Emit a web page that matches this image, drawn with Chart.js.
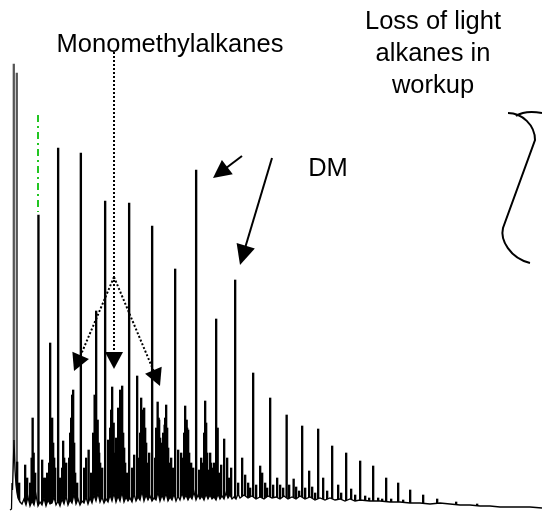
<!DOCTYPE html>
<html><head><meta charset="utf-8">
<script src="https://cdn.jsdelivr.net/npm/chart.js@4.4.1/dist/chart.umd.min.js"></script>
<style>
html,body{margin:0;padding:0;background:#fff;}
#wrap{position:relative;width:542px;height:513px;overflow:hidden;background:#fff;}
#wrap canvas{position:absolute;left:0;top:0;}
.lbl{position:absolute;font-family:"Liberation Sans",Arial,sans-serif;font-size:25.5px;color:#000;text-align:center;white-space:nowrap;line-height:32px;}
</style></head><body>
<div id="wrap">
<canvas id="c" width="542" height="513"></canvas>
<div class="lbl" style="left:20px;top:27px;width:300px;">Monomethylalkanes</div>
<div class="lbl" style="left:333px;top:4px;width:200px;">Loss of light<br>alkanes in<br>workup</div>
<div class="lbl" style="left:278px;top:151px;width:100px;">DM</div>
</div>
<script>
// Retention time (min) and detector response (arbitrary units)
const solventTime   = [1.3, 1.6];
const solventHeight = [449, 440];

const peakTime = [1.8,2.0,2.6,2.8,3.1,3.25,3.35,3.45,3.6,3.93,4.3,4.4,4.6,4.8,5.0,5.1,5.3,5.4,5.5,5.6,5.9,6.1,6.3,6.4,6.5,6.7,7.0,7.1,7.2,7.3,7.4,7.5,7.6,7.8,8.17,8.5,8.7,8.95,9.2,9.4,9.55,9.7,9.85,9.95,10.0,10.1,10.3,10.6,10.9,11.1,11.2,11.3,11.45,11.6,11.7,11.9,12.0,12.1,12.2,12.3,12.4,12.5,12.6,12.8,13.0,13.3,13.5,13.8,14.0,14.1,14.2,14.3,14.4,14.5,14.6,14.7,14.8,15.0,15.3,15.6,15.7,15.85,15.95,16.0,16.1,16.2,16.3,16.4,16.55,16.6,16.7,16.8,16.9,17.0,17.2,17.4,17.6,17.9,18.2,18.4,18.5,18.6,18.75,18.8,18.9,19.0,19.2,19.4,19.7,20.0,20.2,20.4,20.5,20.6,20.7,20.8,20.9,21.1,21.2,21.3,21.5,21.7,21.85,22.0,22.2,22.5,22.8,23.0,23.2,23.6,23.9,24.3,24.6,24.9,25.1,25.4,25.7,26.1,26.3,26.6,26.8,27.1,27.4,27.8,28.1,28.4,28.75,29.0,29.45,29.7,30.0,30.3,30.6,31.0,31.3,31.6,31.9,32.4,32.8,33.3,33.9,34.2,34.7,35.2,35.6,36.1,36.6,37.0,37.4,37.9,38.3,38.7,39.2,39.9,40.4,41.1,42.4,43.8,45.7,47.8];
const peakHeight = [51,30,48,35,30,55,95,60,40,298,53,35,35,40,50,170,95,70,55,45,365,35,45,72,55,50,55,80,95,118,123,70,40,30,360,45,55,63,40,80,118,202,93,70,60,50,45,312,73,85,103,126,90,60,75,105,95,123,118,127,80,65,50,40,310,45,58,137,55,80,115,95,103,105,85,70,50,60,287,55,85,111,95,93,75,60,70,80,88,95,108,85,65,50,55,45,244,63,60,55,80,107,93,85,83,60,50,45,343,43,55,50,80,112,90,60,43,60,50,45,50,194,85,40,48,74,55,35,45,233,30,55,38,30,25,140,28,47,40,30,25,115,28,35,28,25,98,28,34,26,22,87,25,42,26,20,84,35,22,67,28,20,60,24,18,52,17,15,47,15,14,35,14,30,13,23,18,14,11,9];

const baseTime = [1.0,1.15,1.2,1.25,1.4,1.5,1.6,1.7,1.8,2.0,2.2,2.4,2.6,2.8,3.0,3.2,3.4,3.6,3.8,4.0,4.2,4.4,4.6,4.8,5.0,5.2,5.4,5.6,5.8,6.0,6.2,6.4,6.6,6.8,7.0,7.2,7.4,7.6,7.8,8.0,8.2,8.4,8.6,8.8,9.0,9.2,9.4,9.6,9.8,10.0,10.2,10.4,10.6,10.8,11.0,11.2,11.4,11.6,11.8,12.0,12.2,12.4,12.6,12.8,13.0,13.2,13.4,13.6,13.8,14.0,14.2,14.4,14.6,14.8,15.0,15.2,15.4,15.6,15.8,16.0,16.2,16.4,16.6,16.8,17.0,17.2,17.4,17.6,17.8,18.0,18.2,18.4,18.6,18.8,19.0,19.2,19.4,19.6,19.8,20.0,20.2,20.4,20.6,20.8,21.0,21.2,21.4,21.6,21.8,22.0,22.2,22.4,22.6,22.8,23.0,23.2,23.4,23.6,23.8,24.0,24.4,24.8,25.2,25.6,26.0,26.4,26.8,27.2,27.6,28.0,28.4,28.8,29.2,29.6,30.0,30.5,31.0,31.5,32.0,32.5,33.0,33.5,34.0,34.5,35.0,35.5,36.0,37.0,38.0,39.0,40.0,41.0,42.0,43.0,44.0,45.0,46.0,47.0,48.0,49.0,50.0,51.0,52.0,53.0,54.2];
const baseLevel = [3,4,30,23,73,43,28,20,15,11,9,14,8,16,7,12,8,18,7,11,8,15,7,13,9,10,16,8,12,7,14,9,17,8,13,10,19,9,14,8,12,10,16,9,15,10,18,12,20,11,16,10,14,11,18,12,20,11,17,12,21,11,16,12,15,11,19,12,16,13,22,12,18,13,17,12,15,13,21,12,18,13,20,12,16,13,19,12,17,13,20,14,18,13,17,14,21,13,18,14,17,13,19,14,18,14,16,13,19,14,17,14,20,15,18,14,16,14,19,15,18,15,17,14,16,14,17,15,16,14,17,14,16,14,17,14,16,13,15,13,15,13,14,12,14,12,13,12,12,11,11,10,10,9,10,9,8,8,7,7,6,6,6,6,5];

// annotation geometry (time, response)
const ann = {
  monoStem:   [[11.4,461],[11.4,159]],
  monoTip:    [11.4,144],
  monoApex:   [11.4,236],
  monoLeft:   [7.4,142],
  monoRight:  [16.0,127],
  dm1:        [[24.2,357],[21.3,335]],
  dm2:        [[27.2,355],[24.0,248]],
  green:      [[3.8,398],[3.8,301]],
  brace:      [[50.8,400],[52.2,400],[53.5,388],[53.5,373],[50.3,285],[50.0,273],[51.0,255],[53.0,250]],
  braceCap:   [[51.6,397],[52.5,403],[54.2,400]]
};

const annotPlugin = {
  id: 'annot',
  afterDatasetsDraw(chart) {
    const ctx = chart.ctx, xs = chart.scales.x, ys = chart.scales.y;
    const P = p => [xs.getPixelForValue(p[0]), ys.getPixelForValue(p[1])];
    function head(from, tip, L, W) {
      const [fx, fy] = P(from), [tx, ty] = P(tip);
      const a = Math.atan2(ty - fy, tx - fx);
      const bx = tx - L * Math.cos(a), by = ty - L * Math.sin(a);
      ctx.beginPath();
      ctx.moveTo(tx, ty);
      ctx.lineTo(bx + W * Math.sin(a), by - W * Math.cos(a));
      ctx.lineTo(bx - W * Math.sin(a), by + W * Math.cos(a));
      ctx.closePath();
      ctx.fillStyle = '#000';
      ctx.fill();
    }
    function line(a, b, dash, w, col) {
      const [ax, ay] = P(a), [bx, by] = P(b);
      ctx.save();
      ctx.setLineDash(dash);
      ctx.lineWidth = w;
      ctx.strokeStyle = col;
      ctx.beginPath(); ctx.moveTo(ax, ay); ctx.lineTo(bx, by); ctx.stroke();
      ctx.restore();
    }
    function shortTo(from, tip, L) {
      const [fx, fy] = P(from), [tx, ty] = P(tip);
      const d = Math.hypot(tx - fx, ty - fy);
      return [xs.getValueForPixel(tx - (tx - fx) * L / d), ys.getValueForPixel(ty - (ty - fy) * L / d)];
    }
    ctx.save();
    line(ann.green[0], ann.green[1], [7, 4, 2, 4], 2, '#22c522');
    line(ann.monoStem[0], ann.monoStem[1], [2, 2], 2, '#000');
    head(ann.monoStem[0], ann.monoTip, 17, 9);
    line(ann.monoApex, shortTo(ann.monoApex, ann.monoLeft, 15), [2, 2], 2, '#000');
    head(ann.monoApex, ann.monoLeft, 17, 9);
    line(ann.monoApex, shortTo(ann.monoApex, ann.monoRight, 15), [2, 2], 2, '#000');
    head(ann.monoApex, ann.monoRight, 17, 9);
    line(ann.dm1[0], shortTo(ann.dm1[0], ann.dm1[1], 14), [], 2, '#000');
    head(ann.dm1[0], ann.dm1[1], 18, 9);
    line(ann.dm2[0], shortTo(ann.dm2[0], ann.dm2[1], 14), [], 2, '#000');
    head(ann.dm2[0], ann.dm2[1], 20, 9.5);
    const b = ann.brace.map(P);
    ctx.lineWidth = 2; ctx.strokeStyle = '#000'; ctx.setLineDash([]);
    ctx.beginPath();
    ctx.moveTo(b[0][0], b[0][1]);
    ctx.bezierCurveTo(b[1][0], b[1][1], b[2][0], b[2][1], b[3][0], b[3][1]);
    ctx.lineTo(b[4][0], b[4][1]);
    ctx.bezierCurveTo(b[5][0], b[5][1], b[6][0], b[6][1], b[7][0], b[7][1]);
    ctx.stroke();
    const c = ann.braceCap.map(P);
    ctx.beginPath();
    ctx.moveTo(c[0][0], c[0][1]);
    ctx.quadraticCurveTo(c[1][0], c[1][1], c[2][0], c[2][1]);
    ctx.stroke();
    ctx.restore();
  }
};

const toXY = (ts, vs) => ts.map((t, i) => ({x: t, y: vs[i]}));

new Chart(document.getElementById('c'), {
  type: 'bar',
  data: {
    datasets: [
      { type: 'line', label: 'baseline', data: toXY(baseTime, baseLevel), order: 1,
        borderColor: '#000', borderWidth: 1.3, pointRadius: 0, tension: 0,
        fill: 'start', backgroundColor: '#fff' },
      { type: 'bar', label: 'solvent', data: toXY(solventTime, solventHeight), order: 3,
        backgroundColor: '#555', barThickness: 1.6 },
      { type: 'bar', label: 'peaks', data: toXY(peakTime, peakHeight), order: 2,
        backgroundColor: '#000', barThickness: 1.7 }
    ]
  },
  options: {
    responsive: false,
    animation: false,
    events: [],
    layout: { padding: 0 },
    plugins: { legend: { display: false }, tooltip: { enabled: false }, title: { display: false } },
    scales: {
      x: { type: 'linear', min: 0, max: 54.2, display: false, offset: false },
      y: { type: 'linear', min: 0, max: 513, display: false }
    }
  },
  plugins: [annotPlugin]
});
</script>
</body></html>
